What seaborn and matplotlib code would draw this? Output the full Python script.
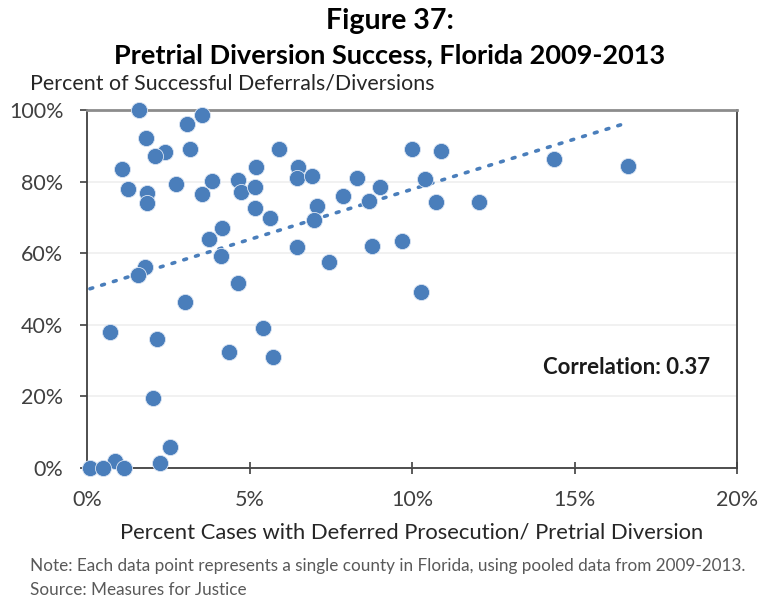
import numpy as np
import pandas as pd
import matplotlib
matplotlib.use("Agg")
import matplotlib.pyplot as plt
import seaborn as sns
from matplotlib.ticker import FuncFormatter

# Per-county values (percent), Florida pooled 2009-2013
deferred_pct = [
    1.60, 3.53, 3.09, 1.80, 3.17, 2.41, 2.10, 5.92, 1.09, 5.20,
    1.27, 2.73, 3.85, 4.64, 4.74, 5.17, 3.54, 1.84, 1.84, 5.18,
    5.62, 4.14, 3.75, 4.13, 1.78, 1.58, 4.64, 3.02, 0.71, 2.16,
    5.42, 4.36, 5.71, 2.04, 2.55, 0.86, 0.09, 0.48, 1.15, 2.25,
    6.50, 6.45, 6.91, 8.30, 9.99, 10.89, 10.40, 9.02, 7.87, 7.09,
    8.68, 10.73, 6.98, 6.45, 8.76, 9.68, 7.45, 10.27, 14.38, 16.66,
    12.07,
]
success_pct = [
    100.0, 98.6, 96.0, 92.1, 89.1, 88.2, 87.2, 89.0, 83.4, 84.2,
    78.0, 79.2, 80.3, 80.4, 77.0, 78.6, 76.6, 76.7, 74.1, 72.7,
    69.9, 67.0, 64.0, 59.3, 56.2, 53.9, 51.8, 46.5, 38.1, 36.0,
    39.1, 32.5, 30.9, 19.5, 5.8, 2.0, 0.0, 0.0, 0.0, 1.3,
    84.2, 80.9, 81.6, 81.1, 89.1, 88.6, 80.7, 78.5, 76.0, 73.2,
    74.6, 74.4, 69.3, 61.6, 62.1, 63.5, 57.6, 49.2, 86.2, 84.4,
    74.4,
]
x_ticks = [0, 5, 10, 15, 20]
y_ticks = [0, 20, 40, 60, 80, 100]
correlation_label = "Correlation: 0.37"

df = pd.DataFrame({"deferred": deferred_pct, "success": success_pct})

sns.set_theme(style="white")
plt.rcParams["font.family"] = ["Lato", "DejaVu Sans"]

blue = "#4a7ebb"
fig = plt.figure(figsize=(7.6, 6.12), dpi=100)
ax = fig.add_axes([87 / 760, 1 - 468 / 612, 650 / 760, 358 / 612])

sns.regplot(
    data=df, x="deferred", y="success", ax=ax, ci=None,
    scatter_kws=dict(s=135, color=blue, edgecolor="#dbe5f3", linewidths=0.6,
                     alpha=1, zorder=3, clip_on=False),
    line_kws=dict(color=blue, linestyle=(0, (0.8, 2.6)), linewidth=2.6,
                  dash_capstyle="round", zorder=2),
)

ax.set_xlim(0, 20)
ax.set_ylim(0, 100)
ax.set_xticks(x_ticks)
ax.set_yticks(y_ticks)
ax.xaxis.set_major_formatter(FuncFormatter(lambda v, p: f"{v:.0f}%"))
ax.yaxis.set_major_formatter(FuncFormatter(lambda v, p: f"{v:.0f}%"))
ax.grid(axis="y", color="#efefef", linewidth=1.2)
ax.set_axisbelow(True)

for side in ["left", "bottom", "right"]:
    ax.spines[side].set_color("#404040")
    ax.spines[side].set_linewidth(1.3)
ax.spines["top"].set_color("#8c8c8c")
ax.spines["top"].set_linewidth(2.0)

ax.tick_params(axis="y", which="major", direction="out", length=5, width=1.2,
               color="#404040", left=True, labelsize=15.5, labelcolor="#404040", pad=12)
ax.tick_params(axis="x", which="major", direction="inout", length=8, width=1.2,
               color="#404040", bottom=True, labelsize=15.5, labelcolor="#404040", pad=12)

ax.set_xlabel("Percent Cases with Deferred Prosecution/ Pretrial Diversion",
              fontsize=15.8, color="#262626", labelpad=9)
ax.set_ylabel("")

ax.text(0.958, 0.28, correlation_label, transform=ax.transAxes, ha="right",
        va="center", fontsize=16, fontweight="bold", color="#1a1a1a")

fig.text(0.513, 1 - 21 / 612, "Figure 37:", ha="center", va="center",
         fontsize=20.5, fontweight="bold", color="black")
fig.text(0.513, 1 - 55 / 612, "Pretrial Diversion Success, Florida 2009-2013",
         ha="center", va="center", fontsize=19.5, fontweight="bold", color="black")
fig.text(30 / 760, 1 - 84 / 612, "Percent of Successful Deferrals/Diversions",
         ha="left", va="center", fontsize=15.4, color="#262626")
fig.text(30 / 760, 1 - 566 / 612,
         "Note: Each data point represents a single county in Florida, using pooled data from 2009-2013.",
         ha="left", va="center", fontsize=12.3, color="#595959")
fig.text(30 / 760, 1 - 590 / 612, "Source: Measures for Justice",
         ha="left", va="center", fontsize=12.3, color="#595959")

fig.savefig("out.png", dpi=100, facecolor="white")
